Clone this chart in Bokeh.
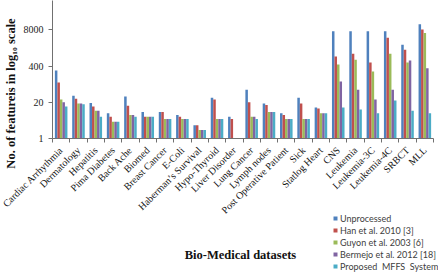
import math

from bokeh.embed import file_html
from bokeh.models import (BasicTickFormatter, Column, ColumnDataSource, FixedTicker, GridBox,
                          Label, Legend, LegendItem, Range1d)
from bokeh.plotting import figure
from bokeh.resources import INLINE
from bokeh.transform import dodge

nan = float("nan")

datasets = ["Cardiac Arrhythmia", "Dermatology", "Hepatitis", "Pima Diabetes", "Back Ache",
            "Biomed", "Breast Cancer", "E-Coli", "Haberman\u2019s Survival", "Hypo-Thyroid",
            "Liver Disorder", "Lung Cancer", "Lymph nodes", "Post Operative Patient", "Sick",
            "Statlog Heart", "CNS", "Leukemia", "Leukemia-3C", "Leukemia-4C", "SRBCT", "MLL"]

unprocessed = [279, 34, 19, 8, 32, 9, 9, 7, 3, 29, 6, 56, 18, 8, 29, 13,
               7129, 7129, 7129, 7129, 2308, 12582]
han_2010 = [103, 27, 14, 6, 15, 6, 9, 6, 3, 25, 5, 20, 16, 7, 18, 12,
            870, 1100, 530, 4100, 1520, 8200]
guyon_2003 = [25, 18, 10, 4, 7, 6, 5, 5, 2, 5, nan, 6, 9, 5, 5, 8,
              450, 670, 255, 1100, 530, 6100]
bermejo_2012 = [20, 18, 10, 4, 7, 6, 5, 5, 2, 5, nan, 6, 9, 5, 5, 8,
                112, 56, 25, 56, 630, 333]
mffs = [14, 17, 6, 4, 6, 6, 5, 5, 2, 5, nan, 5, 9, 5, 5, 8,
        13, 11, 8, 23, 10, 8]

series_labels = ["Unprocessed", "Han et al. 2010 [3]", "Guyon et al. 2003 [6]",
                 "Bermejo et al. 2012 [18]", "Proposed\u00a0 MFFS\u00a0 System"]
y_ticks = [1, 20, 400, 8000]

columns = ["unprocessed", "han", "guyon", "bermejo", "mffs"]
colors = ["#4F81BD", "#C0504D", "#9BBB59", "#8064A2", "#4BACC6"]
offsets = [-0.29, -0.145, 0.0, 0.145, 0.29]

n = len(datasets)
source = ColumnDataSource(dict(
    x=list(range(n)), unprocessed=unprocessed, han=han_2010, guyon=guyon_2003,
    bermejo=bermejo_2012, mffs=mffs,
))

W, H = 438, 279

# ---- main chart: bars, axes, rotated dataset names ----
p = figure(width=W, height=H, y_axis_type="log",
           x_range=Range1d(-0.5, n - 0.5), y_range=Range1d(1, 90000),
           output_backend="svg", toolbar_location=None,
           min_border_left=52, min_border_right=5, min_border_top=0, min_border_bottom=141)
p.outline_line_color = None
p.xgrid.visible = False
p.ygrid.visible = False

for col, color, off in zip(columns, colors, offsets):
    p.vbar(x=dodge("x", off), top=col, bottom=1, width=0.145, source=source,
           fill_color=color, line_color=None)

axis_gray = "#707070"

# y axis: log scale with fixed ticks
p.yaxis.ticker = FixedTicker(ticks=y_ticks)
p.yaxis.formatter = BasicTickFormatter()
p.yaxis.axis_line_color = axis_gray
p.yaxis.major_tick_line_color = axis_gray
p.yaxis.major_tick_out = 4
p.yaxis.major_tick_in = 0
p.yaxis.minor_tick_line_color = None
p.yaxis.major_label_text_font = "Liberation Serif"
p.yaxis.major_label_text_font_size = "10px"
p.yaxis.major_label_text_color = "#222222"
p.yaxis.major_label_standoff = 5

# x axis: names at category centres, tick marks at category boundaries
p.xaxis.ticker = FixedTicker(ticks=list(range(n)), minor_ticks=[i - 0.5 for i in range(n + 1)])
p.xaxis.major_label_overrides = {i: name for i, name in enumerate(datasets)}
p.xaxis.major_label_orientation = math.pi / 4
p.xaxis.major_tick_line_color = None
p.xaxis.major_tick_out = 4
p.xaxis.major_tick_in = 0
p.xaxis.minor_tick_line_color = axis_gray
p.xaxis.minor_tick_out = 4
p.xaxis.minor_tick_in = 0
p.xaxis.axis_line_color = axis_gray
p.xaxis.major_label_text_font = "Liberation Serif"
p.xaxis.major_label_text_font_size = "10px"
p.xaxis.major_label_text_color = "#111111"
p.xaxis.major_label_standoff = 6

# ---- transparent overlay spanning the whole canvas: titles and legend ----
q = figure(width=W, height=H, x_range=Range1d(0, W), y_range=Range1d(0, H),
           output_backend="svg", toolbar_location=None,
           x_axis_location=None, y_axis_location=None,
           min_border_left=0, min_border_right=0, min_border_top=0, min_border_bottom=0)
q.outline_line_color = None
q.xgrid.visible = False
q.ygrid.visible = False
q.background_fill_alpha = 0
q.border_fill_alpha = 0

q.add_layout(Label(x=10, y=186, x_units="screen", y_units="screen", angle=math.pi / 2,
                   text="No. of featureis in log\u2081\u2080 scale", text_align="center",
                   text_baseline="middle", text_font="Liberation Serif",
                   text_font_size="12.5px", text_font_style="bold", text_color="#111111"))
q.add_layout(Label(x=240, y=25, x_units="screen", y_units="screen",
                   text="Bio-Medical datasets", text_align="center", text_baseline="middle",
                   text_font="Liberation Serif", text_font_size="12.5px",
                   text_font_style="bold", text_color="#111111"))

items = []
for label, color in zip(series_labels, colors):
    r = q.scatter(x=[nan], y=[nan], marker="square", fill_color=color, line_color=None)
    items.append(LegendItem(label=label, renderers=[r]))

legend = Legend(items=items, location=(330, 7), glyph_width=10, glyph_height=10,
                label_height=12, spacing=0, padding=0, margin=0, label_standoff=0,
                border_line_color=None, background_fill_alpha=0,
                label_text_font="Lato", label_text_font_size="9px",
                label_text_color="#404040")
q.add_layout(legend)

# the overlay sits in the same grid cell as the chart
layout = GridBox(children=[(p, 0, 0), (Column(children=[q]), 0, 0)])
open("out.html", "w").write(file_html(layout, INLINE))
